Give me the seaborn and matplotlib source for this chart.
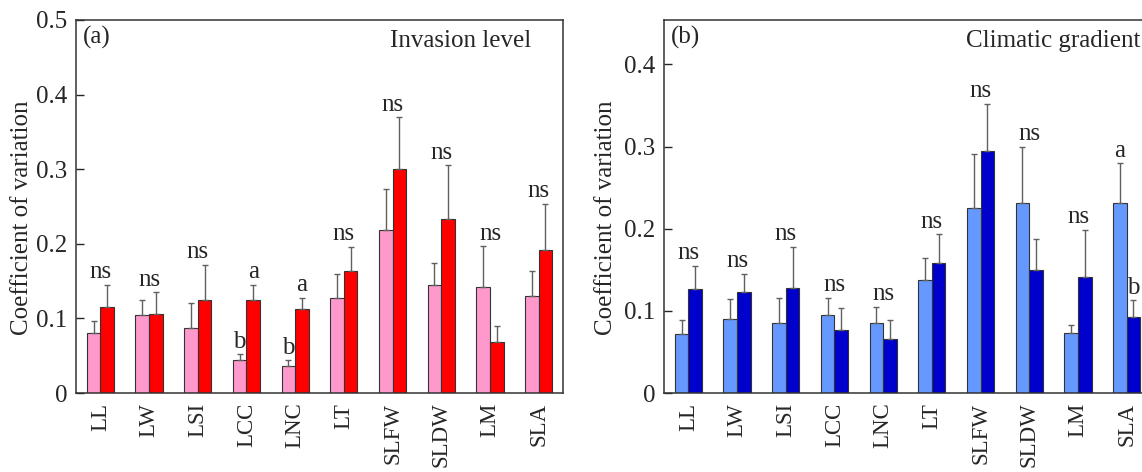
import matplotlib
matplotlib.use("Agg")
import matplotlib.pyplot as plt
import numpy as np
import pandas as pd
import seaborn as sns
from matplotlib.ticker import FuncFormatter

traits = ["LL", "LW", "LSI", "LCC", "LNC", "LT", "SLFW", "SLDW", "LM", "SLA"]

# (a) invasion level: low (pink) vs high (red), mean CV and upper SE
inv_low = [0.080, 0.105, 0.087, 0.044, 0.036, 0.128, 0.218, 0.145, 0.142, 0.130]
inv_low_se = [0.017, 0.019, 0.033, 0.008, 0.008, 0.031, 0.055, 0.029, 0.055, 0.033]
inv_high = [0.115, 0.106, 0.125, 0.125, 0.113, 0.164, 0.300, 0.233, 0.068, 0.192]
inv_high_se = [0.030, 0.029, 0.047, 0.020, 0.015, 0.032, 0.070, 0.072, 0.022, 0.062]
inv_labels = [["ns"], ["ns"], ["ns"], ["b", "a"], ["b", "a"],
              ["ns"], ["ns"], ["ns"], ["ns"], ["ns"]]

# (b) climatic gradient: light blue vs dark blue
cli_low = [0.072, 0.090, 0.085, 0.095, 0.085, 0.137, 0.225, 0.231, 0.073, 0.231]
cli_low_se = [0.017, 0.025, 0.031, 0.021, 0.020, 0.027, 0.066, 0.069, 0.010, 0.049]
cli_high = [0.126, 0.123, 0.128, 0.077, 0.066, 0.158, 0.294, 0.150, 0.141, 0.093]
cli_high_se = [0.029, 0.022, 0.050, 0.026, 0.023, 0.035, 0.058, 0.038, 0.058, 0.020]
cli_labels = [["ns"], ["ns"], ["ns"], ["ns"], ["ns"],
              ["ns"], ["ns"], ["ns"], ["ns"], ["a", "b"]]

sns.set_theme(style="ticks")
plt.rcParams["font.family"] = ["Liberation Serif", "DejaVu Serif"]
FS = 18


def panel(ax, low, low_se, high, high_se, labels, colors, ymax, ticks, tag, title, title_x):
    df = pd.DataFrame({
        "trait": traits * 2,
        "group": ["low"] * len(traits) + ["high"] * len(traits),
        "cv": low + high,
    })
    sns.barplot(data=df, x="trait", y="cv", hue="group", order=traits,
                hue_order=["low", "high"], palette=colors, width=0.56,
                saturation=1, errorbar=None, edgecolor="#333333", linewidth=0.8,
                legend=False, ax=ax)
    tops = {}
    for cont, means, ses in zip(ax.containers, [low, high], [low_se, high_se]):
        xs = [p.get_x() + p.get_width() / 2 for p in cont.patches]
        ax.errorbar(xs, means, yerr=[np.zeros(len(ses)), ses], fmt="none",
                    ecolor="#606060", elinewidth=1.0, capsize=2.5, capthick=1.0)
        tops[len(tops)] = (xs, np.array(means) + np.array(ses))
    for i, lab in enumerate(labels):
        if len(lab) == 1:
            y = max(tops[0][1][i], tops[1][1][i])
            ax.annotate(lab[0], (i, y), xytext=(0, 1), textcoords="offset points",
                        ha="center", va="bottom", fontsize=FS)
        else:
            for k in range(2):
                ax.annotate(lab[k], (tops[k][0][i], tops[k][1][i]), xytext=(0, 1),
                            textcoords="offset points", ha="center", va="bottom",
                            fontsize=FS)
    ax.set_ylim(0, ymax)
    ax.set_xlim(-0.5, len(traits) - 0.5)
    ax.set_yticks(ticks)
    ax.yaxis.set_major_formatter(FuncFormatter(lambda v, p: f"{v:g}"))
    ax.tick_params(axis="y", direction="in", length=6, width=1, labelsize=FS, pad=6)
    # slightly smaller than the reference so the long names are not cut at the bottom
    ax.tick_params(axis="x", length=0, labelsize=16.5, pad=7, labelrotation=90)
    ax.set_xlabel("")
    ax.set_ylabel("Coefficient of variation", fontsize=FS)
    for s in ax.spines.values():
        s.set_visible(True)
        s.set_color("#333333")
        s.set_linewidth(1.1)
    ax.text(0.014, 0.952, tag, transform=ax.transAxes, ha="left", va="center", fontsize=FS)
    ax.text(title_x, 0.944, title, transform=ax.transAxes, ha="right", va="center", fontsize=FS)


fig = plt.figure(figsize=(11.42, 4.72), dpi=100)
ax1 = fig.add_axes([76 / 1142, 79 / 472, 487 / 1142, 373 / 472])
ax2 = fig.add_axes([664 / 1142, 79 / 472, 487 / 1142, 373 / 472])

panel(ax1, inv_low, inv_low_se, inv_high, inv_high_se, inv_labels,
      ["#FF99CC", "#FF0000"], 0.5, [0, 0.1, 0.2, 0.3, 0.4, 0.5],
      "(a)", "Invasion level", 0.934)
ax1.yaxis.set_label_coords(-0.088, 0.47)

panel(ax2, cli_low, cli_low_se, cli_high, cli_high_se, cli_labels,
      ["#6699FF", "#0000CC"], 0.454, [0, 0.1, 0.2, 0.3, 0.4],
      "(b)", "Climatic gradient", 0.978)
ax2.yaxis.set_label_coords(-0.097, 0.47)

fig.savefig("out.png", dpi=100)
